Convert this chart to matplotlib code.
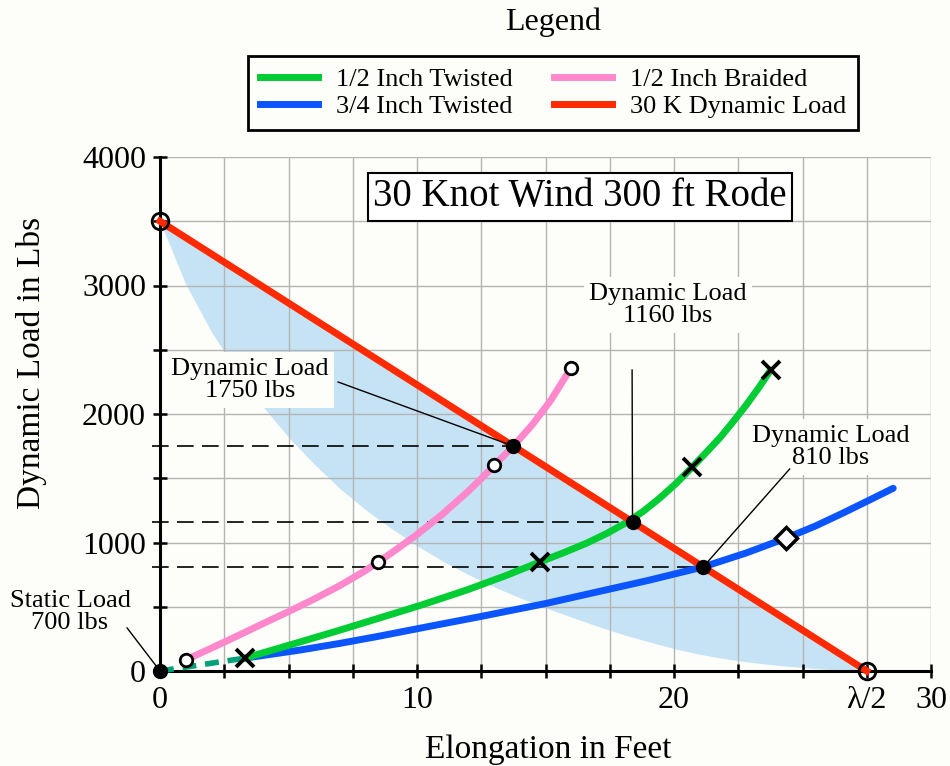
import numpy as np
import matplotlib
matplotlib.use("Agg")
import matplotlib.pyplot as plt
from matplotlib.lines import Line2D

plt.rcParams['font.family'] = ['Liberation Serif', 'DejaVu Serif']

# ---- data -----------------------------------------------------------
# 30 knot dynamic-load line: from 3500 lbs at zero stretch to lambda/2
red_x = [0.0, 27.5]
red_y = [3500, 0]

# lower edge of the shaded energy region
shade_x = [0, 1, 2, 3, 4, 5, 6, 7, 8, 9, 10, 11, 12, 13, 14, 15, 16, 17, 18,
           19, 20, 21, 22, 23, 24, 25, 26, 27, 27.5]
shade_y = [3500, 3010, 2640, 2330, 2060, 1820, 1610, 1420, 1255, 1110, 975, 855, 750,
           655, 570, 492, 420, 350, 285, 228, 175, 130, 95, 67, 45, 27, 13, 3, 0]

# 1/2 inch braided
pink_x = [1.0, 2, 3, 4, 5, 6, 7, 8, 8.5, 9, 10, 11, 12, 12.5, 13, 13.75, 14.5,
          15.2, 16.0]
pink_y = [86, 178, 272, 368, 462, 560, 665, 782, 850, 918, 1062, 1222, 1400, 1497,
          1600, 1750, 1920, 2105, 2360]
pink_mx = [1.0, 8.5, 13.0, 16.0]
pink_my = [86, 850, 1600, 2360]

# 1/2 inch twisted
green_x = [3.3, 4.5, 5.45, 7.0, 8.5, 10.2, 11.93, 13.4, 14.8, 15.7, 16.6, 17.4,
           18.19, 18.8, 19.46, 20.1, 20.7, 21.25, 21.8, 22.3, 22.83, 23.3, 23.76]
green_y = [100, 170, 226, 318, 410, 515, 630, 738, 850, 920, 995, 1072,
           1160, 1242, 1348, 1463, 1585, 1700, 1818, 1940, 2075, 2205, 2342]
green_mx = [3.3, 14.8, 20.7, 23.76]
green_my = [100, 850, 1585, 2342]

# 3/4 inch twisted
blue_x = [3.3, 5.45, 7.0, 8.5, 10.5, 12.45, 15.05, 17.0, 19.0, 21.14, 22.8, 24.35,
          25.5, 26.5, 27.5, 28.53]
blue_y = [100, 163, 215, 270, 348, 423, 527, 615, 705, 810, 918, 1033,
          1128, 1222, 1320, 1422]
blue_mx = [24.35]
blue_my = [1033]

# static-load lead-in
lead_x = [0.0, 3.3]
lead_y = [0, 100]

# intersection loads quoted in the call-outs
dyn_loads = [1750, 1160, 810]
dyn_x = [27.5 * (1 - v / 3500) for v in dyn_loads]

x_ticks = [0, 2.5, 5, 7.5, 10, 12.5, 15, 17.5, 20, 22.5, 25, 27.5, 30]
x_labels = ['0', '', '', '', '10', '', '', '', '20', '', '', 'λ/2', '30']
y_ticks = list(range(0, 4001, 500))
y_labels = ['0', '', '1000', '', '2000', '', '3000', '', '4000']

legend_names = ['1/2 Inch Twisted', '3/4 Inch Twisted', '1/2 Inch Braided', '30 K Dynamic Load']

# ---- style ----------------------------------------------------------
C_GREEN = '#00cc33'
C_BLUE = '#0a55ff'
C_PINK = '#ff88cc'
C_RED = '#ff2a00'
C_TEAL = '#00a07a'
C_SHADE = '#c6e3f5'
BG = '#fdfdf9'

fig = plt.figure(figsize=(9.5, 7.66), dpi=100, facecolor=BG)
ax = fig.add_axes([160 / 950, 95 / 766, 771 / 950, 514 / 766])
ax.set_facecolor(BG)
ax.set_xlim(0, 30)
ax.set_ylim(0, 4000)

# grid
ax.set_axisbelow(True)
ax.grid(True, color='#b4b4b4', lw=1.0)
for s in ['top', 'right']:
    ax.spines[s].set_visible(False)
for s in ['left', 'bottom']:
    ax.spines[s].set_linewidth(2.2)
    ax.spines[s].set_color('black')

ax.set_xticks(x_ticks)
ax.set_xticklabels(x_labels)
ax.set_yticks(y_ticks)
ax.set_yticklabels(y_labels)
ax.tick_params(direction='inout', length=10, width=1.8, labelsize=23, pad=5)
ax.tick_params(axis='x', pad=6)

# shaded region between curve and load line
upper = np.interp(shade_x, red_x, red_y)
ax.fill_between(shade_x, shade_y, upper, color=C_SHADE, lw=0, zorder=0.2)

# dashed read-off lines
for xv, yv in zip(dyn_x, dyn_loads):
    ax.plot([-0.3, xv], [yv, yv], color='black', lw=1.2, dashes=(10, 5),
            clip_on=False, zorder=3)

# curves
lw = 5
ax.plot(lead_x, lead_y, color=C_TEAL, lw=4, dashes=(2.5, 1.6), zorder=4, clip_on=False)
ax.plot(blue_x, blue_y, color=C_BLUE, lw=lw, solid_capstyle='round',
        solid_joinstyle='round', zorder=5)
ax.plot(green_x, green_y, color=C_GREEN, lw=lw, solid_capstyle='round',
        solid_joinstyle='round', zorder=5)
ax.plot(pink_x, pink_y, color=C_PINK, lw=lw, solid_capstyle='round',
        solid_joinstyle='round', zorder=5)
ax.plot(red_x, red_y, color=C_RED, lw=lw, zorder=6, clip_on=False)

# markers
ax.plot(pink_mx, pink_my, 'o', ms=9, mfc='white', mec='black', mew=2, zorder=8)
ax.plot(green_mx, green_my, 'x', ms=13, mec='black', mew=2.8, zorder=8)
ax.plot(blue_mx, blue_my, 'D', ms=11, mfc='white', mec='black', mew=2.5, zorder=8)
ax.plot(red_x, red_y, 'o', ms=12, mfc='none', mec='black', mew=2, zorder=9, clip_on=False)
ax.plot(dyn_x, dyn_loads, 'o', ms=10, color='black', zorder=9)
ax.plot([0], [0], 'o', ms=10, color='black', zorder=9, clip_on=False)

# call-outs
txt_kw = dict(fontsize=19, ha='center', va='center', linespacing=1.05, zorder=7)
box = dict(boxstyle='square,pad=0.2', fc=BG, ec='none')
ax.text(3.5, 2265, 'Dynamic Load\n1750 lbs', bbox=box, **txt_kw)
ax.text(19.77, 2848, 'Dynamic Load\n1160 lbs', bbox=box, **txt_kw)
ax.text(26.1, 1743, 'Dynamic Load\n810 lbs', bbox=box, clip_on=False, **txt_kw)
ax.text(-3.5, 459, 'Static Load\n700 lbs', clip_on=False, **txt_kw)

leader_starts = [(6.93, 2249), (18.37, 2342), (24.5, 1572)]
for (sx, sy), xv, yv in zip(leader_starts, dyn_x, dyn_loads):
    ax.plot([sx, xv], [sy, yv], color='black', lw=1.0, zorder=7)
ax.plot([-1.28, 0], [335, 0], color='black', lw=1.0, zorder=7, clip_on=False)

# chart heading box
ax.text(16.34, 3689, '30 Knot Wind 300 ft Rode', fontsize=28, ha='center', va='center',
        zorder=7, bbox=dict(boxstyle='square,pad=0.13', fc='white', ec='black', lw=1.5))

ax.set_xlabel('Elongation in Feet', fontsize=24)
ax.set_ylabel('Dynamic Load in Lbs', fontsize=24)
ax.xaxis.set_label_coords(0.503, -0.124)
ax.yaxis.set_label_coords(-0.147, 0.60)

# legend
handles = [Line2D([], [], color=C_GREEN, lw=5),
           Line2D([], [], color=C_BLUE, lw=5),
           Line2D([], [], color=C_PINK, lw=5),
           Line2D([], [], color=C_RED, lw=5)]
leg = fig.legend(handles, legend_names, ncol=2, loc='upper center',
                 bbox_to_anchor=(553 / 950, 1 - 56 / 766), borderaxespad=0, fontsize=19,
                 frameon=True, fancybox=False, edgecolor='black', framealpha=1,
                 facecolor=BG, handlelength=2.2, handletextpad=0.7,
                 columnspacing=1.55, labelspacing=0.12, borderpad=0.45)
leg.get_frame().set_linewidth(2)
fig.text(553 / 950, 1 - 22 / 766, 'Legend', fontsize=23, ha='center', va='center')

fig.savefig('out.png', dpi=100, facecolor=BG)
